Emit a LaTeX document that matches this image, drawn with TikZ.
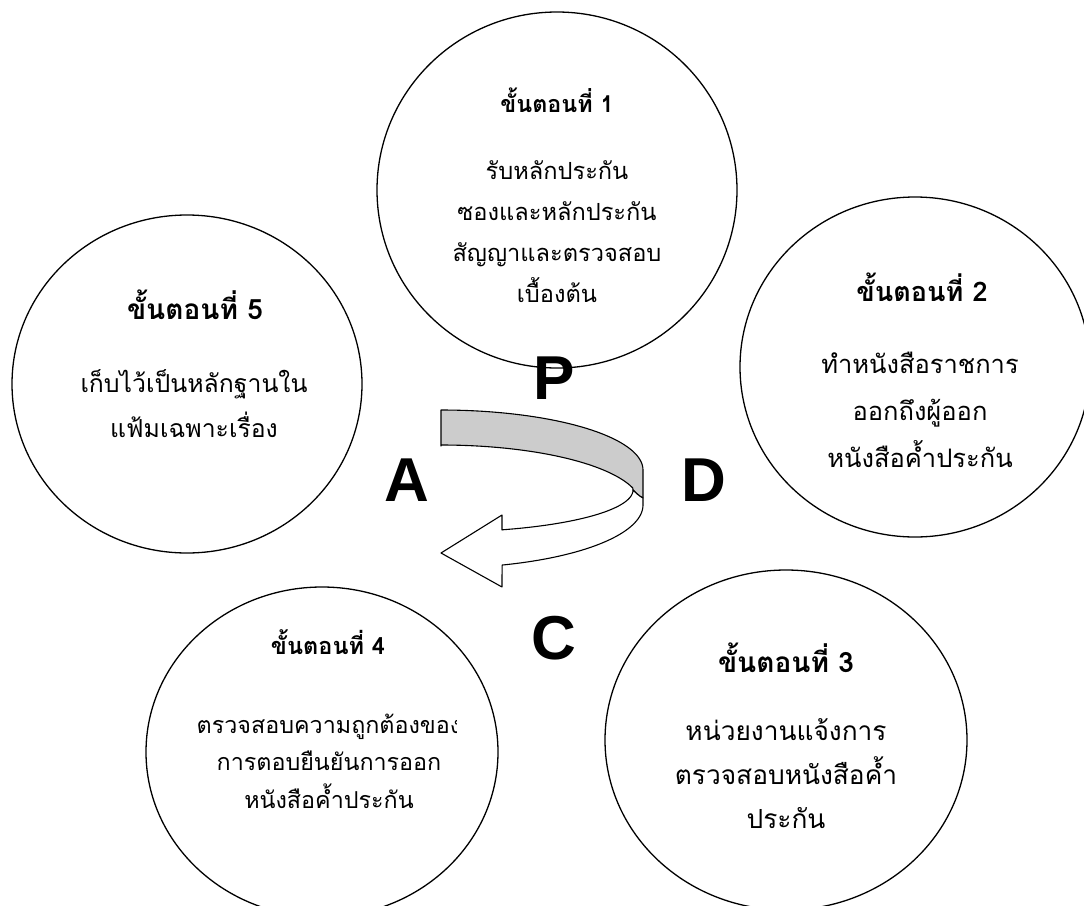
\documentclass[tikz,border=0pt]{standalone}
\usepackage{fontspec}
\usetikzlibrary{shapes.geometric}
\newfontfamily\thai[Script=Thai]{Loma}
\newfontfamily\latin{Liberation Sans}
\begin{document}
\begin{tikzpicture}[x=1pt,y=-1pt,
  stepcircle/.style={draw=black, line width=1.3pt, ellipse, inner sep=0pt, fill=none},
  head/.style={font=\thai\bfseries\fontsize{#1}{#1}\selectfont, inner sep=0pt},
  body/.style 2 args={font=\thai\fontsize{#1}{#2}\selectfont, align=center, inner sep=0pt},
  letter/.style={font=\latin\bfseries\fontsize{62}{62}\selectfont, inner sep=0pt},
  ribbon/.style={draw=black, line width=1.1pt, line join=round}]
\useasboundingbox (0,0) rectangle (1084,905);
\fill[white] (0,0) rectangle (1084,905);

% circles
\node[stepcircle, minimum width=360pt, minimum height=356pt] (c1) at (557,190) {};
\node[stepcircle, minimum width=350pt, minimum height=338pt] (c5) at (187,384) {};
\node[stepcircle, minimum width=350pt, minimum height=340pt] (c2) at (915,367) {};
\node[stepcircle, minimum width=352pt, minimum height=330pt] (c4) at (322,752) {};
\node[stepcircle, minimum width=362pt, minimum height=340pt] (c3) at (786,740) {};

% step 1
\node[head=23.3] (h1) at (557,100) {ขั้นตอนที่ 1};
\node[body={23.6}{41}] (t1) at (557,232) {รับหลักประกัน\\ซองและหลักประกัน\\สัญญาและตรวจสอบ\\เบื้องต้น};
% step 2
\node[head=27] (h2) at (922,287) {ขั้นตอนที่ 2};
\node[body={25.5}{47}] (t2) at (920,410) {ทำหนังสือราชการ\\ออกถึงผู้ออก\\หนังสือค้ำประกัน};
% step 3
\node[head=28] (h3) at (786,658) {ขั้นตอนที่ 3};
\node[body={26.3}{44}] (t3) at (786,774) {หน่วยงานแจ้งการ\\ตรวจสอบหนังสือค้ำ\\ประกัน};
% step 4
\node[head=23.5] (h4) at (328,642) {ขั้นตอนที่ 4};
\begin{scope}
\clip (0,0) rectangle (456,905);
\node[body={23.3}{37.5}] (t4) at (329,761) {ตรวจสอบความถูกต้องของ\\การตอบยืนยันการออก\\หนังสือค้ำประกัน};
\end{scope}
% step 5
\node[head=28] (h5) at (195,305) {ขั้นตอนที่ 5};
\node[body={24.8}{45}] (t5) at (194,404) {เก็บไว้เป็นหลักฐานใน\\แฟ้มเฉพาะเรื่อง};

% curved arrow: grey upper band
\coordinate (bandTL) at (441,410);
\coordinate (bandBL) at (441,446);
\coordinate (fold) at (633,490);
\coordinate (tip) at (441,553);
\filldraw[ribbon, fill=black!20]
  (bandTL) -- plot[domain=90:0, samples=40] ({441+202*cos(\x)}, {470-60*sin(\x)})
  -- (643,498) .. controls (639,496) and (636,493) .. (fold)
  -- plot[domain=16.5:90, samples=40] ({441+200*cos(\x)}, {505-60*sin(\x)})
  -- (bandBL) -- cycle;
% white lower part with arrow head
\filldraw[ribbon, fill=white]
  (fold) .. controls (636,493) and (639,496) .. (643,498)
  -- (643,505)
  -- plot[domain=0:-72.4, samples=40] ({441+202*cos(\x)}, {505-63*sin(\x)})
  -- (502,587) -- (tip) -- (502,515) -- (502,530)
  -- plot[domain=71.5:0, samples=40] ({441+192*cos(\x)}, {490+42*sin(\x)})
  -- (fold) -- cycle;

% PDCA letters
\node[letter] (P) at (554,378) {P};
\node[letter] (D) at (704,480) {D};
\node[letter] (C) at (554,638) {C};
\node[letter] (A) at (407,480) {A};
\end{tikzpicture}
\end{document}
